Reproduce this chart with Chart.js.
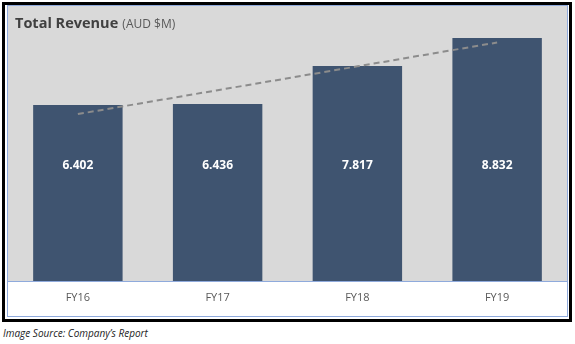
<!DOCTYPE html>
<html>
<head>
<meta charset="utf-8">
<script src="https://cdn.jsdelivr.net/npm/chart.js@4/dist/chart.umd.min.js"></script>
<style>
  body { margin: 0; background: #fff; font-family: "Open Sans", sans-serif; }
  #frame {
    position: absolute; left: 2px; top: 2px; width: 570px; height: 320px;
    box-sizing: border-box; border: 3px solid #000; background: #fff;
  }
  #box {
    position: absolute; left: 2px; top: 0px; width: 561px; height: 312px;
    box-sizing: border-box; border: 1px solid #8faadc;
  }
  #title {
    position: absolute; left: 7px; top: 5px; color: #404040; white-space: nowrap;
  }
  #title b { font-size: 14.5px; font-weight: 700; }
  #title span { font-size: 12px; color: #595959; }
  #source {
    position: absolute; left: 3px; top: 326px; font-size: 10px; font-style: italic; color: #222;
  }
</style>
</head>
<body>
<div id="frame">
  <div id="box">
    <canvas id="revenueChart" width="559" height="310"></canvas>
    <div id="title"><b>Total Revenue</b> <span>(AUD $M)</span></div>
  </div>
</div>
<div id="source">Image Source: Company’s Report</div>

<script>
const years = ['FY16', 'FY17', 'FY18', 'FY19'];
const revenue = [6.402, 6.436, 7.817, 8.832];

// least squares trend through the revenue figures
function linearTrend(values) {
  const n = values.length;
  const mx = (n - 1) / 2;
  const my = values.reduce((a, b) => a + b, 0) / n;
  let num = 0, den = 0;
  values.forEach((v, i) => { num += (i - mx) * (v - my); den += (i - mx) ** 2; });
  const slope = num / den;
  return values.map((v, i) => my + slope * (i - mx));
}

const plotBackground = {
  id: 'plotBackground',
  beforeDraw(chart) {
    const { ctx, chartArea: a } = chart;
    ctx.save();
    ctx.fillStyle = '#d9d9d9';
    ctx.fillRect(a.left, a.top, a.right - a.left, a.bottom - a.top);
    ctx.restore();
  }
};

// white value labels on a common level inside the bars
const barValues = {
  id: 'barValues',
  afterDatasetsDraw(chart) {
    const { ctx } = chart;
    const meta = chart.getDatasetMeta(0);
    const y = chart.scales.y.getPixelForValue(4.2);
    ctx.save();
    ctx.fillStyle = '#fff';
    ctx.font = 'bold 12px "Open Sans"';
    ctx.textAlign = 'center';
    ctx.textBaseline = 'middle';
    meta.data.forEach((bar, i) => {
      ctx.fillText(revenue[i].toFixed(3), bar.x, y);
    });
    ctx.restore();
  }
};

new Chart(document.getElementById('revenueChart'), {
  data: {
    labels: years,
    datasets: [
      {
        type: 'line',
        data: linearTrend(revenue),
        borderColor: '#8c8c8c',
        borderWidth: 2,
        borderDash: [6, 4],
        pointRadius: 0,
        order: 0
      },
      {
        type: 'bar',
        data: revenue,
        backgroundColor: '#3f5470',
        barPercentage: 0.64,
        categoryPercentage: 1,
        order: 1
      }
    ]
  },
  options: {
    responsive: false,
    animation: false,
    layout: { padding: 0 },
    plugins: {
      legend: { display: false },
      tooltip: { enabled: false }
    },
    scales: {
      x: {
        grid: { display: false, drawTicks: false },
        border: { display: true, color: '#8faadc', width: 1 },
        ticks: { color: '#595959', font: { family: 'Open Sans', size: 11 }, padding: 10 },
        afterFit(scale) { scale.height = 35; }
      },
      y: { display: false, min: 0, max: 10 }
    }
  },
  plugins: [plotBackground, barValues]
});
</script>
</body>
</html>
